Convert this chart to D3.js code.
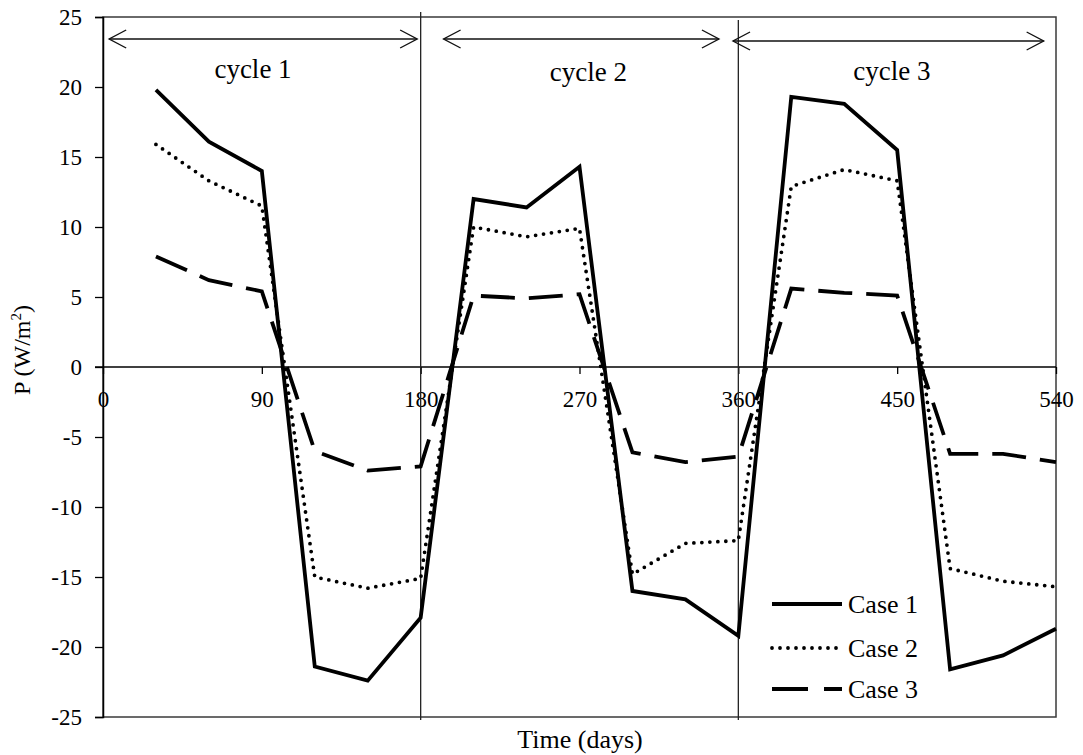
<!DOCTYPE html>
<html>
<head>
<meta charset="utf-8">
<script src="https://cdn.jsdelivr.net/npm/d3@7/dist/d3.min.js"></script>
<style>
  html, body { margin: 0; padding: 0; background: #fff; }
  svg text { font-family: "Liberation Serif", "Times New Roman", serif; fill: #000; }
</style>
</head>
<body>
<svg id="chart" width="1083" height="755"></svg>
<script>
// Time axis (days) and power density of the three cases
const days  = [30, 60, 90, 120, 150, 180, 210, 240, 270, 300, 330, 360, 390, 420, 450, 480, 510, 540];
const case1 = [19.8, 16.1, 14.0, -21.4, -22.4, -17.9, 12.0, 11.4, 14.3, -16.0, -16.6, -19.2, 19.3, 18.8, 15.5, -21.6, -20.6, -18.7];
const case2 = [15.9, 13.3, 11.5, -15.0, -15.8, -15.1, 10.0, 9.3, 9.9, -14.8, -12.6, -12.4, 12.9, 14.1, 13.3, -14.4, -15.3, -15.7];
const case3 = [7.9, 6.2, 5.4, -6.0, -7.4, -7.1, 5.1, 4.9, 5.2, -6.1, -6.8, -6.4, 5.6, 5.3, 5.1, -6.2, -6.2, -6.8];

const xTicks = [0, 90, 180, 270, 360, 450, 540];
const yTicks = [-25, -20, -15, -10, -5, 0, 5, 10, 15, 20, 25];

// Cycle boundaries and the arrows spanning each cycle
const cycleBounds = [180, 360];
const cycleNames  = ["cycle 1", "cycle 2", "cycle 3"];
const cycleArrowStart = [3.5, 193, 357];
const cycleArrowEnd   = [178, 349, 533];
const cycleLabelAt    = [85, 275, 447];

const seriesNames = ["Case 1", "Case 2", "Case 3"];

const svg = d3.select("#chart");
const L = 103, R = 1056, T = 17, B = 717;

const x = d3.scaleLinear().domain([0, 540]).range([L, R]);
const y = d3.scaleLinear().domain([-25, 25]).range([B, T]);

// plot frame
svg.append("rect")
  .attr("x", L).attr("y", T).attr("width", R - L).attr("height", B - T)
  .attr("fill", "none").attr("stroke", "#3a3a3a").attr("stroke-width", 1.5);

// y axis
const yAxis = svg.append("g")
  .attr("transform", `translate(${L},0)`)
  .call(d3.axisLeft(y).tickValues(yTicks).tickSize(8).tickPadding(13).tickFormat(d => String(d)));
yAxis.select(".domain").attr("stroke", "#000").attr("stroke-width", 1.5);
yAxis.selectAll(".tick line").attr("stroke", "#000").attr("stroke-width", 1.3);
yAxis.selectAll(".tick text").attr("font-size", 23).attr("font-family", "Liberation Serif").attr("fill", "#111");

// x axis drawn along the zero line
const xAxis = svg.append("g")
  .attr("transform", `translate(0,${y(0)})`)
  .call(d3.axisBottom(x).tickValues(xTicks).tickSize(7).tickPadding(17).tickSizeOuter(0));
xAxis.select(".domain").remove();
xAxis.selectAll(".tick line").attr("stroke", "#000").attr("stroke-width", 1.3);
xAxis.selectAll(".tick text").attr("font-size", 23).attr("font-family", "Liberation Serif").attr("fill", "#111");
svg.append("line")
  .attr("x1", L - 8).attr("x2", R).attr("y1", y(0)).attr("y2", y(0))
  .attr("stroke", "#000").attr("stroke-width", 1.3);

// cycle boundary lines
svg.selectAll("line.bound").data(cycleBounds).join("line")
  .attr("class", "bound")
  .attr("x1", d => x(d)).attr("x2", d => x(d))
  .attr("y1", (d, i) => i === 0 ? T - 5 : T + 3).attr("y2", B + 3)
  .attr("stroke", "#222").attr("stroke-width", 1.3);

// cycle arrows
const arrowY = [39, 39, 41];
cycleNames.forEach((name, i) => {
  const x1 = x(cycleArrowStart[i]), x2 = x(cycleArrowEnd[i]), yy = arrowY[i];
  const g = svg.append("g").attr("stroke", "#111").attr("stroke-width", 1.4).attr("fill", "none");
  g.append("line").attr("x1", x1).attr("x2", x2).attr("y1", yy).attr("y2", yy);
  g.append("path").attr("d", `M${x1 + 17},${yy - 9}L${x1},${yy}L${x1 + 17},${yy + 9}`);
  g.append("path").attr("d", `M${x2 - 17},${yy - 9}L${x2},${yy}L${x2 - 17},${yy + 9}`);
  svg.append("text")
    .attr("x", x(cycleLabelAt[i])).attr("y", [78, 81, 80][i])
    .attr("text-anchor", "middle").attr("font-size", 27)
    .text(name);
});

// series
const styles = [
  { dash: null, cap: "butt", width: 3.8 },
  { dash: "0,8", cap: "round", width: 3.8 },
  { dash: "34,14", cap: "butt", width: 3.8 }
];
const line = d3.line().x(d => x(d[0])).y(d => y(d[1]));
[case1, case2, case3].forEach((vals, i) => {
  const pts = days.map((d, j) => [d, vals[j]]);
  svg.append("path")
    .datum(pts)
    .attr("d", line)
    .attr("fill", "none")
    .attr("stroke", "#000")
    .attr("stroke-width", styles[i].width)
    .attr("stroke-linecap", styles[i].cap)
    .attr("stroke-linejoin", "miter")
    .attr("stroke-dasharray", styles[i].dash);
});

// legend
const legendY = [604, 648, 689];
seriesNames.forEach((name, i) => {
  svg.append("line")
    .attr("x1", 772).attr("x2", 842).attr("y1", legendY[i]).attr("y2", legendY[i])
    .attr("stroke", "#000").attr("stroke-width", styles[i].width)
    .attr("stroke-linecap", styles[i].cap)
    .attr("stroke-dasharray", i === 2 ? "36,16" : styles[i].dash);
  svg.append("text")
    .attr("x", 848).attr("y", legendY[i]).attr("dy", "0.35em")
    .attr("font-size", 26)
    .text(name);
});

// axis titles
svg.append("text")
  .attr("x", 580).attr("y", 748)
  .attr("text-anchor", "middle").attr("font-size", 26)
  .text("Time (days)");

const yt = svg.append("text")
  .attr("transform", "translate(30,350) rotate(-90)")
  .attr("text-anchor", "middle").attr("font-size", 24);
yt.append("tspan").text("P (W/m");
yt.append("tspan").attr("font-size", 15).attr("dy", -9).text("2");
yt.append("tspan").attr("dy", 9).text(")");
</script>
</body>
</html>
